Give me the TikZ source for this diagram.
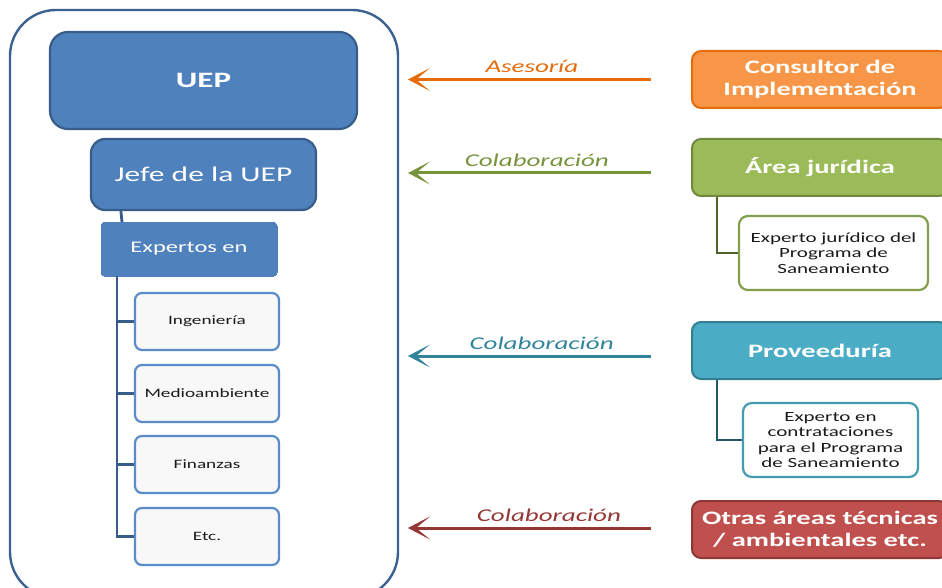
\documentclass[tikz,border=0pt]{standalone}
\usepackage{fontspec}
\setmainfont{Carlito}[FakeStretch=1.5]
\usetikzlibrary{arrows.meta,calc}
\definecolor{bfill}{HTML}{4F81BD}
\definecolor{bline}{HTML}{385D8A}
\definecolor{blight}{HTML}{5B8CC8}
\definecolor{ofill}{HTML}{F79646}
\definecolor{oline}{HTML}{E46C0A}
\definecolor{gfill}{HTML}{9BBB59}
\definecolor{gline}{HTML}{71893F}
\definecolor{garr}{HTML}{77933C}
\definecolor{gdark}{HTML}{4F6228}
\definecolor{tfill}{HTML}{4BACC6}
\definecolor{tline}{HTML}{357D91}
\definecolor{tarr}{HTML}{31849B}
\definecolor{tdark}{HTML}{215968}
\definecolor{rfill}{HTML}{C0504D}
\definecolor{rline}{HTML}{8C3836}
\definecolor{rarr}{HTML}{953735}
\definecolor{txt}{HTML}{1A1A1A}
\definecolor{pale}{HTML}{F8F8F8}
\tikzset{
  bluebox/.style={draw=bline, fill=bfill, line width=2.2pt, text=white, inner sep=0pt},
  childbox/.style={draw=blight, fill=pale, line width=2.2pt, rounded corners=7pt, text=txt, inner sep=0pt, minimum width=144pt, minimum height=57pt, font=\fontsize{12.8}{14}\selectfont},
  header/.style={line width=2pt, rounded corners=9pt, text=white, inner sep=0pt, minimum width=256pt, minimum height=57pt, align=center, font=\fontsize{19}{22}\selectfont\bfseries},
  expbox/.style={fill=white, line width=2.2pt, rounded corners=9pt, text=txt, inner sep=0pt, align=center, font=\fontsize{14}{15.6}\selectfont},
  treeline/.style={line width=2.8pt},
  relarrow/.style={line width=3pt, -{Stealth[length=22pt,width=23pt,inset=14pt]}},
  rellabel/.style={font=\fontsize{18}{20}\selectfont\itshape, inner sep=0pt, above=5pt}
}
\begin{document}
\begin{tikzpicture}[x=1pt,y=-1pt]
\useasboundingbox (0,0) rectangle (942,588);
\clip (0,0) rectangle (942,588);
\fill[white] (0,0) rectangle (942,588);
% container
\node[draw=bline!90!bfill, line width=2.4pt, rounded corners=46pt, minimum width=388pt, minimum height=588pt, inner sep=0pt] (outer) at (204,304) {};
% left hierarchy
\node[bluebox, rounded corners=18pt, minimum width=307pt, minimum height=97pt, font=\fontsize{22}{24}\selectfont\bfseries] (uep) at (203.5,80.5) {UEP};
\node[bluebox, rounded corners=14pt, minimum width=225pt, minimum height=71pt, font=\fontsize{21}{24}\selectfont] (jefe) at (203.5,174.5) {Jefe de la UEP};
\node[bluebox, draw=bfill, line width=0pt, rounded corners=4pt, minimum width=176pt, minimum height=54pt, font=\fontsize{16.3}{18}\selectfont] (exp) at (189,249) {Expertos en};
\node[childbox] (ing) at (207,321.5) {Ingeniería};
\node[childbox] (med) at (207,393.5) {Medioambiente};
\node[childbox] (fin) at (207,464.5) {Finanzas};
\node[childbox] (etc) at (207,536.5) {Etc.};
\draw[treeline, draw=bline] ([xshift=31pt]jefe.south west) -- ([xshift=21pt]exp.north west);
\draw[treeline, draw=bline] ([xshift=16pt]exp.south west) |- (ing.west);
\draw[treeline, draw=bline] ([xshift=16pt]exp.south west) |- (med.west);
\draw[treeline, draw=bline] ([xshift=16pt]exp.south west) |- (fin.west);
\draw[treeline, draw=bline] ([xshift=16pt]exp.south west) |- (etc.west);
% right side
\node[header, draw=oline, fill=ofill] (cons) at (820,79.5) {Consultor de\\Implementación};
\node[header, draw=gline, fill=gfill] (area) at (820,167.5) {Área jurídica};
\node[expbox, draw=gfill!85!black, minimum width=189pt, minimum height=74pt] (expj) at (833.5,253) {Experto jurídico del\\Programa de\\Saneamiento};
\node[header, draw=tline, fill=tfill] (prov) at (820,350.5) {Proveeduría};
\node[expbox, draw=tfill!90!black, minimum width=175pt, minimum height=74pt] (expc) at (830.5,440) {Experto en\\contrataciones\\para el Programa\\de Saneamiento};
\node[header, draw=rline, fill=rfill] (otras) at (820,529.5) {Otras áreas técnicas\\/ ambientales etc.};
\draw[treeline, draw=gdark] ([xshift=26pt]area.south west) |- (expj.west);
\draw[treeline, draw=tdark] ([xshift=26pt]prov.south west) |- (expc.west);
% relation arrows
\coordinate (tip) at (408,0);
\coordinate (s1) at ([xshift=-40pt]cons.west);
\coordinate (s2) at ([xshift=-40pt,yshift=-5.5pt]area.west);
\coordinate (s3) at ([xshift=-40pt,yshift=-5.5pt]prov.west);
\coordinate (s4) at ([xshift=-40pt,yshift=1.5pt]otras.west);
\draw[relarrow, draw=oline] (s1) -- node[rellabel, pos=0.49, text=oline] {Asesoría} (s1 -| tip);
\draw[relarrow, draw=garr] (s2) -- node[rellabel, pos=0.47, text=garr] {Colaboración} (s2 -| tip);
\draw[relarrow, draw=tarr] (s3) -- node[rellabel, pos=0.45, text=tarr] {Colaboración} (s3 -| tip);
\draw[relarrow, draw=rarr] (s4) -- node[rellabel, pos=0.42, text=rarr] {Colaboración} (s4 -| tip);
\end{tikzpicture}
\end{document}
